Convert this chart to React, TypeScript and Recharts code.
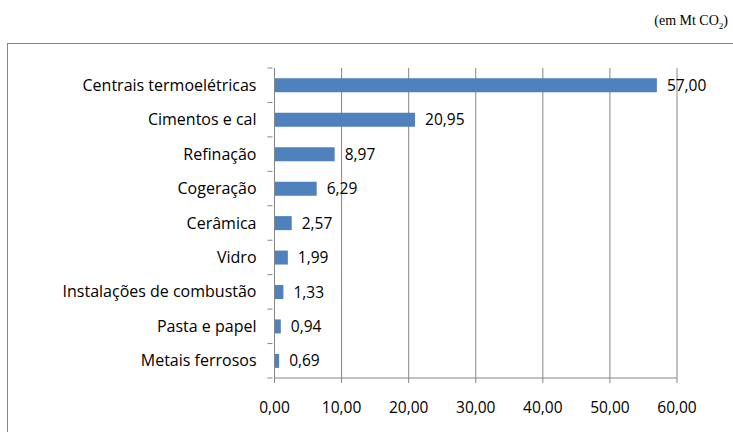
import React from 'react';
import { BarChart, Bar, XAxis, YAxis, CartesianGrid, LabelList } from 'recharts';

const categories = [
  'Centrais termoelétricas',
  'Cimentos e cal',
  'Refinação',
  'Cogeração',
  'Cerâmica',
  'Vidro',
  'Instalações de combustão',
  'Pasta e papel',
  'Metais ferrosos',
];
const emissions = [57.0, 20.95, 8.97, 6.29, 2.57, 1.99, 1.33, 0.94, 0.69];
const xTicks = [0, 10, 20, 30, 40, 50, 60];

const data = categories.map((name, i) => ({ name, value: emissions[i] }));

const fmt = (v: number) => v.toFixed(2).replace('.', ',');

const FONT = '"Open Sans", sans-serif';
const GRID = '#868686';
const TOP = 68;
const BOTTOM = 54;
const X_AXIS_H = 30;
const HEIGHT = 432;
const BAND = (HEIGHT - TOP - BOTTOM) / categories.length;

const CategoryTick = (props: any) => {
  const { x, y, payload, index } = props;
  const axisX = x;
  return (
    <g>
      <line x1={axisX - 5} x2={axisX} y1={y + BAND / 2} y2={y + BAND / 2} stroke={GRID} />
      {index === 0 && (
        <line x1={axisX - 5} x2={axisX} y1={y - BAND / 2} y2={y - BAND / 2} stroke={GRID} />
      )}
      <text x={x - 16} y={y} dy="0.35em" textAnchor="end" fill="#000" fontSize={16} fontFamily={FONT}>
        {payload.value}
      </text>
    </g>
  );
};

export default function App() {
  return (
    <div style={{ position: 'absolute', left: 0, top: 0, width: 733, height: 432, background: '#fff', overflow: 'hidden' }}>
      <div
        style={{
          position: 'absolute',
          right: 5,
          top: 13,
          fontFamily: '"Liberation Serif", "Times New Roman", serif',
          fontSize: 14,
          color: '#000',
        }}
      >
        (em Mt CO<sub style={{ fontSize: 9 }}>2</sub>)
      </div>
      <div
        style={{
          position: 'absolute',
          left: 7,
          top: 43,
          width: 740,
          height: 400,
          border: '1px solid #868686',
        }}
      />
      <div style={{ position: 'absolute', left: 0, top: 0 }}>
        <BarChart
          width={733}
          height={HEIGHT}
          data={data}
          layout="vertical"
          margin={{ top: TOP, right: 56, bottom: BOTTOM - X_AXIS_H, left: 0 }}
          barCategoryGap="30%"
        >
          <CartesianGrid horizontal={false} vertical stroke={GRID} />
          <XAxis
            type="number"
            domain={[0, 60]}
            ticks={xTicks}
            tickFormatter={fmt}
            stroke={GRID}
            height={X_AXIS_H}
            tickSize={5}
            tickMargin={19}
            tick={{ fill: '#000', fontSize: 15.5, fontFamily: FONT }}
          />
          <YAxis
            type="category"
            dataKey="name"
            width={274.5}
            stroke={GRID}
            tickLine={false}
            tickSize={0}
            tick={<CategoryTick />}
          />
          <Bar dataKey="value" fill="#4F81BD" isAnimationActive={false}>
            <LabelList
              dataKey="value"
              position="right"
              offset={10}
              formatter={(v: any) => fmt(Number(v))}
              fill="#000"
              fontSize={15.5}
              fontFamily={FONT}
            />
          </Bar>
        </BarChart>
      </div>
    </div>
  );
}
